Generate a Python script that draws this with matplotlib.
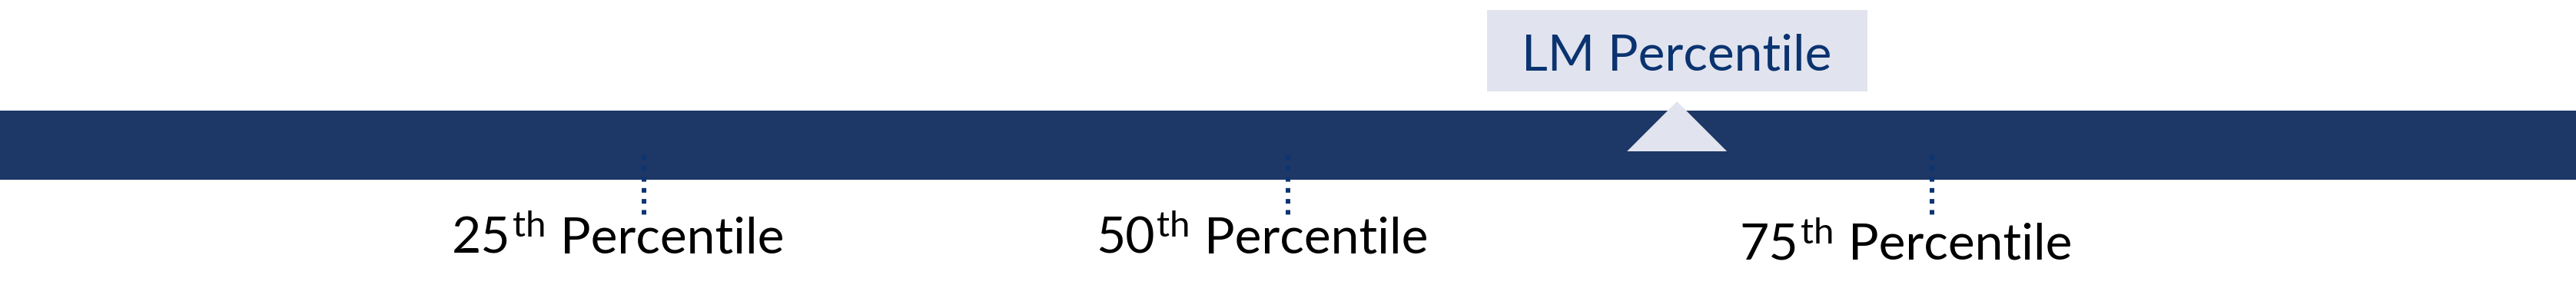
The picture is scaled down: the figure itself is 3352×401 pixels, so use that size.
import matplotlib
matplotlib.use("Agg")
import matplotlib.pyplot as plt
from matplotlib.patches import Rectangle, Polygon

# percentile marks on the bar (0-100 scale across the full width)
percentiles = [25, 50, 75]
numbers = ["25", "50", "75"]
suffix = "th"
word = "Percentile"
lm_percentile = 65.1
lm_label = "LM Percentile"

W, H = 3352, 401
fig = plt.figure(figsize=(W / 100, H / 100), dpi=100)
ax = fig.add_axes([0, 0, 1, 1])
ax.set_xlim(0, 100)
ax.set_ylim(H, 0)
ax.axis("off")
px = 100.0 / W  # data units per pixel

bar_col = "#1d3766"
box_col = "#e1e4ee"
dot_col = "#0b3571"
lm_text_col = "#0b3370"
font = "Lato"
fs = 47.5

# main bar
ax.add_patch(Rectangle((0, 144), 100, 90, facecolor=bar_col, lw=0))

# LM callout box + pointer
ax.add_patch(Rectangle((lm_percentile - 247.5 * px, 13), 495 * px, 106, facecolor=box_col, lw=0))
ax.add_patch(Polygon([(lm_percentile - 65 * px, 197), (lm_percentile, 132),
                      (lm_percentile + 65 * px, 197)], closed=True, facecolor=box_col, lw=0))
ax.text(lm_percentile, 92, lm_label, ha="center", va="baseline", fontsize=fs,
        family=font, color=lm_text_col)

# dotted ticks
for p in percentiles:
    ax.plot([p, p], [202, 280], color=dot_col, lw=4.32, linestyle=(0, (1, 1.38)),
            dash_capstyle="butt")

# labels under the ticks
renderer = fig.canvas.get_renderer()
baselines = [329, 329, 338]
for p, num, yb in zip(percentiles, numbers, baselines):
    t1 = ax.text(0, yb, num, ha="left", va="baseline", fontsize=fs, family=font, color="black")
    t2 = ax.text(0, yb - 21, suffix, ha="left", va="baseline", fontsize=fs * 0.72,
                 family=font, color="black")
    t3 = ax.text(0, yb, word, ha="left", va="baseline", fontsize=fs, family=font, color="black")
    w1 = t1.get_window_extent(renderer).width
    w2 = t2.get_window_extent(renderer).width
    w3 = t3.get_window_extent(renderer).width
    gap1, gap2 = 3, 18
    total = w1 + gap1 + w2 + gap2 + w3
    left = p / px - 34 - total / 2
    t1.set_x(left * px)
    t2.set_x((left + w1 + gap1) * px)
    t3.set_x((left + w1 + gap1 + w2 + gap2) * px)

fig.savefig("out.png", dpi=100, facecolor="white")
